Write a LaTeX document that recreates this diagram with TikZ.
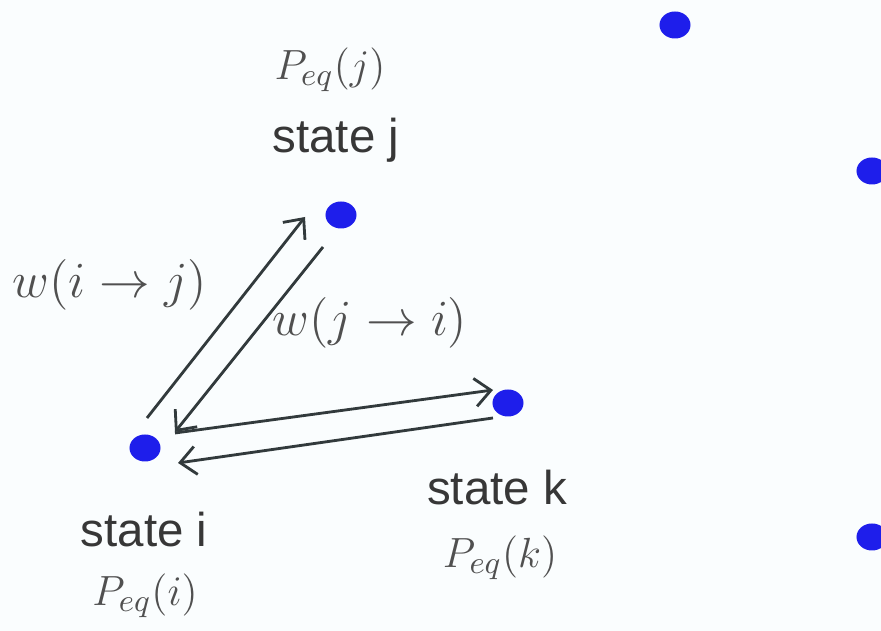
\documentclass[tikz,border=0pt]{standalone}
\usepackage{fontspec}
\setsansfont{Liberation Sans}
\usetikzlibrary{shapes.geometric,arrows.meta}
\definecolor{dotblue}{RGB}{30,30,235}
\definecolor{textgray}{RGB}{55,55,55}
\definecolor{mathgray}{RGB}{80,80,80}
\definecolor{arrowgray}{RGB}{50,58,60}
\definecolor{bgwhite}{RGB}{250,253,254}
\begin{document}
\begin{tikzpicture}[
    x=0.01cm, y=-0.01cm,
    dot/.style={ellipse, fill=dotblue, minimum width=0.31cm, minimum height=0.27cm, inner sep=0pt},
    statelbl/.style={font=\fontsize{13.5}{16}\selectfont\sffamily, text=textgray},
    mathlbl/.style={font=\fontsize{13}{16}\selectfont, text=mathgray},
    arrow/.style={-{Straight Barb[length=4.5pt,width=8pt]}, line width=0.8pt, draw=arrowgray},
]

\clip (0,0) rectangle (881,631);
\fill[bgwhite] (0,0) rectangle (881,631);

% States
\node[dot] (si) at (145,448) {};
\node[dot] (sj) at (341,215) {};
\node[dot] (sk) at (508,403) {};

% Other states
\node[dot] (o1) at (675,25) {};
\node[dot] (o2) at (872,171) {};
\node[dot] (o3) at (872,537) {};

% Labels of state j
\node[mathlbl] (pj) at (330,70) {$P_{eq}(j)$};
\node[statelbl] (lj) at (336,140) {state j};

% Labels of state i
\node[statelbl] (li) at (144,530) {state i};
\node[mathlbl] (pi) at (145,596) {$P_{eq}(i)$};

% Labels of state k
\node[statelbl] (lk) at (497,488) {state k};
\node[mathlbl] (pk) at (500,558) {$P_{eq}(k)$};

% Transitions i <-> j
\draw[arrow] ([shift={(2,-30)}]si.center) -- ([shift={(-36,2)}]sj.center);
\draw[arrow] ([shift={(-18,32)}]sj.center) -- ([shift={(30,-16)}]si.center);
\node[mathlbl, font=\fontsize{14}{16}\selectfont] (wij) at (110,285) {$w(i\rightarrow j)$};
\node[mathlbl, font=\fontsize{14}{16}\selectfont] (wji) at (370,323) {$w(j\rightarrow i)$};

% Transitions i <-> k
\draw[arrow] ([shift={(30,-15)}]si.center) -- ([shift={(-15,-13)}]sk.center);
\draw[arrow] ([shift={(-15,15)}]sk.center) -- ([shift={(33,15)}]si.center);

\end{tikzpicture}
\end{document}
